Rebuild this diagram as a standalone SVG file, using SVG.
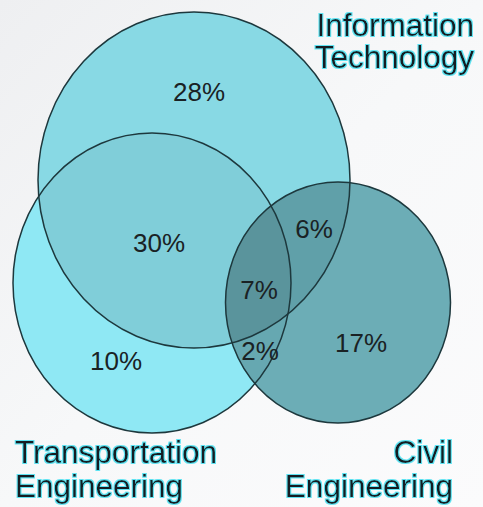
<svg xmlns="http://www.w3.org/2000/svg" width="483" height="507" viewBox="0 0 483 507">
  <defs>
    <linearGradient id="bg" x1="0" y1="0" x2="1" y2="1">
      <stop offset="0" stop-color="#eeeff1"/>
      <stop offset="0.5" stop-color="#f7f8f9"/>
      <stop offset="1" stop-color="#fbfbfc"/>
    </linearGradient>
    <ellipse id="eIT" cx="194" cy="180" rx="156" ry="168"/>
    <ellipse id="eTE" cx="152" cy="283" rx="139" ry="150"/>
    <ellipse id="eCE" cx="338" cy="302.5" rx="112.5" ry="120.5"/>
    <clipPath id="clipIT"><use href="#eIT"/></clipPath>
    <clipPath id="clipTE"><use href="#eTE"/></clipPath>
    <filter id="glow" x="-10%" y="-30%" width="120%" height="160%">
      <feMorphology in="SourceAlpha" operator="dilate" radius="1.1" result="d"/>
      <feGaussianBlur in="d" stdDeviation="0.7" result="b"/>
      <feFlood flood-color="#5fe3f2"/>
      <feComposite in2="b" operator="in" result="halo"/>
      <feMerge><feMergeNode in="halo"/><feMergeNode in="SourceGraphic"/></feMerge>
    </filter>
  </defs>
  <style>
    .outline { fill: none; stroke: #1d383d; stroke-width: 1.5; }
    .pct { font-family: "Liberation Sans", Arial, sans-serif; font-size: 26px; fill: #1a2224; text-anchor: middle; }
    .lbl { font-family: "Liberation Sans", Arial, sans-serif; font-size: 31.5px; fill: #121e20; filter: url(#glow); }
  </style>

  <rect width="483" height="507" fill="url(#bg)"/>

  <!-- set fills, with each overlap painted in its own shade -->
  <g id="fills">
    <use href="#eTE" fill="#8fe8f4"/>
    <use href="#eIT" fill="#88d9e4"/>
    <use href="#eTE" fill="#80ced9" clip-path="url(#clipIT)"/>
    <use href="#eCE" fill="#6cadb6"/>
    <use href="#eCE" fill="#66a8b1" clip-path="url(#clipTE)"/>
    <use href="#eCE" fill="#60a0a9" clip-path="url(#clipIT)"/>
    <g clip-path="url(#clipIT)">
      <use href="#eCE" fill="#5a949c" clip-path="url(#clipTE)"/>
    </g>
  </g>

  <g id="node-it">
    <use href="#eIT" class="outline"/>
    <text class="lbl" x="474" y="36" text-anchor="end">Information</text>
    <text class="lbl" x="474" y="68" text-anchor="end">Technology</text>
  </g>
  <g id="node-te">
    <use href="#eTE" class="outline"/>
    <text class="lbl" x="15" y="463">Transportation</text>
    <text class="lbl" x="15" y="497">Engineering</text>
  </g>
  <g id="node-ce">
    <use href="#eCE" class="outline"/>
    <text class="lbl" x="453" y="463" text-anchor="end">Civil</text>
    <text class="lbl" x="453" y="497" text-anchor="end">Engineering</text>
  </g>

  <g id="values">
    <text class="pct" x="199" y="101">28%</text>
    <text class="pct" x="159" y="252">30%</text>
    <text class="pct" x="314" y="238">6%</text>
    <text class="pct" x="259" y="299">7%</text>
    <text class="pct" x="260" y="360">2%</text>
    <text class="pct" x="361" y="352">17%</text>
    <text class="pct" x="116" y="370">10%</text>
  </g>
</svg>
